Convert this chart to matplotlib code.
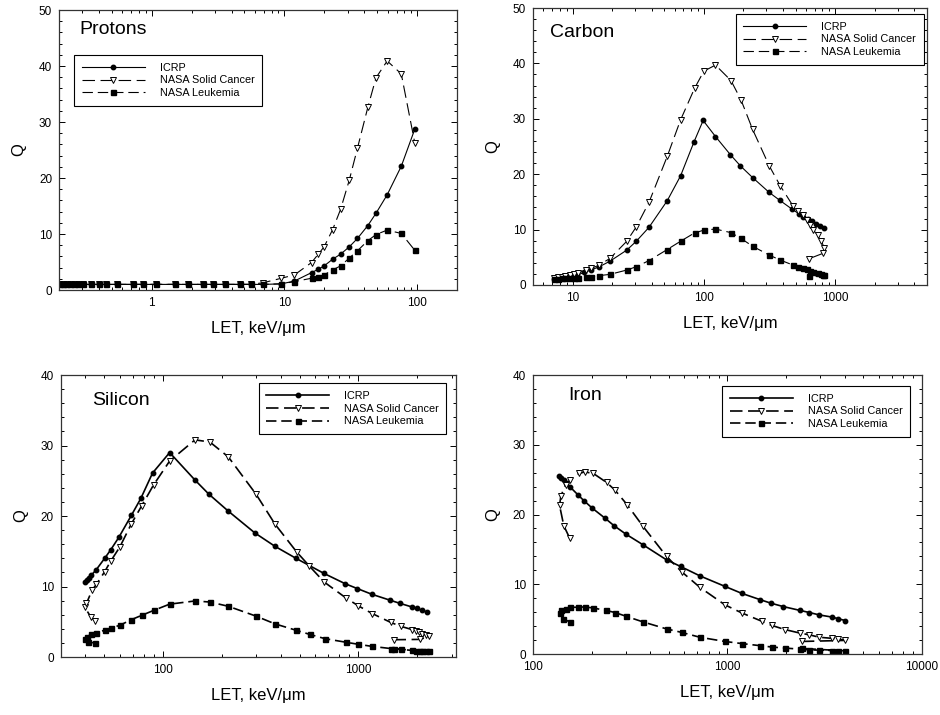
import matplotlib
matplotlib.use('Agg')
import matplotlib.pyplot as plt
from matplotlib.ticker import MultipleLocator, LogLocator, NullFormatter, FuncFormatter

plt.rcParams['font.family'] = ['Liberation Sans', 'DejaVu Sans']
plt.rcParams['lines.scale_dashes'] = False

# ---- Protons ----
p_let = [0.202, 0.214, 0.227, 0.243, 0.258, 0.278, 0.303, 0.351, 0.398, 0.455, 0.547,
         0.723, 0.86, 1.08, 1.49, 1.88, 2.44, 2.87, 3.55, 4.61, 5.56, 6.92,
         9.5, 11.9, 16.0, 18.0, 19.9, 23.1, 26.5, 30.8, 35.5, 42.5, 49.0, 59.5, 76.0, 96.0]
p_icrp = [1.0, 1.0, 1.0, 1.0, 1.0, 1.0, 1.0, 1.0, 1.0, 1.0, 1.0,
          1.0, 1.0, 1.0, 1.0, 1.0, 1.0, 1.0, 1.0, 1.0, 1.0, 1.0,
          1.1, 1.6, 3.1, 3.7, 4.3, 5.5, 6.4, 7.7, 9.2, 11.5, 13.7, 17.0, 22.1, 28.7]
p_solid = [1.0, 1.0, 1.0, 1.0, 1.0, 1.0, 1.0, 1.0, 1.0, 1.0, 1.0,
           1.0, 1.0, 1.0, 1.0, 1.0, 1.0, 1.0, 1.0, 1.0, 1.0, 1.3,
           2.1, 2.7, 4.9, 6.4, 7.7, 10.8, 14.4, 19.6, 25.3, 32.6, 37.9, 40.9, 38.6, 26.3]
p_leuk = [1.0, 1.0, 1.0, 1.0, 1.0, 1.0, 1.0, 1.0, 1.0, 1.0, 1.0,
          1.0, 1.0, 1.0, 1.0, 1.0, 1.0, 1.0, 1.0, 1.0, 1.0, 1.0,
          1.1, 1.5, 2.1, 2.4, 2.7, 3.6, 4.3, 5.7, 7.0, 8.8, 9.9, 10.7, 10.1, 7.1]

# ---- Carbon ----
c_icrp_let = [7.26, 7.69, 8.17, 8.65, 9.33, 10.0, 10.9, 12.3, 13.8, 16.0, 19.3, 25.9, 30.6,
              38.2, 52.6, 66.5, 84.4, 98.8, 122.7, 159.6, 190, 235, 315, 378, 469, 526,
              574, 620, 664, 712, 769, 829]
c_icrp = [1.14, 1.2, 1.26, 1.38, 1.5, 1.62, 1.8, 2.29, 2.7, 3.3, 4.3, 6.3, 7.9,
          10.4, 15.2, 19.7, 25.9, 29.7, 26.8, 23.5, 21.5, 19.4, 16.7, 15.3, 13.7, 12.9,
          12.3, 11.9, 11.5, 11.1, 10.6, 10.3]
c_nasa_let = [7.26, 7.69, 8.25, 8.8, 9.6, 10.3, 11.1, 12.6, 13.9, 15.8, 19.3, 25.9, 30.6,
              38.2, 52.6, 66.5, 85, 100, 122.7, 161, 192, 235, 315, 382, 477, 520, 565,
              609, 646, 684, 734, 783, 829, 805, 634]
c_solid = [1.26, 1.38, 1.5, 1.68, 1.8, 2.0, 2.2, 2.7, 3.0, 3.55, 4.8, 7.9, 10.5,
           14.9, 23.2, 29.8, 35.5, 38.6, 39.7, 36.9, 33.4, 28.1, 21.5, 17.9, 14.3, 13.3, 12.6,
           11.7, 10.8, 9.9, 9.0, 8.0, 6.6, 5.7, 4.75]
c_leuk = [1.08, 1.14, 1.2, 1.2, 1.26, 1.26, 1.32, 1.38, 1.5, 1.68, 1.92, 2.7, 3.3,
          4.4, 6.4, 7.9, 9.4, 9.9, 10.1, 9.45, 8.4, 7.0, 5.4, 4.5, 3.6, 3.3, 3.0,
          2.8, 2.6, 2.35, 2.1, 1.9, 1.8, 1.75, 1.6]

# ---- Silicon ----
s_icrp_let = [40.0, 40.7, 41.8, 42.9, 45.5, 50.2, 53.9, 59.4, 68.8, 76.9, 88.3, 108, 145.6,
              171.5, 215.5, 295, 374, 479, 667, 855, 989, 1171, 1455, 1637, 1879, 1993, 2114, 2243]
s_icrp = [10.65, 10.9, 11.2, 11.6, 12.4, 14.0, 15.2, 17.0, 20.1, 22.5, 26.1, 29.0, 25.1,
          23.1, 20.7, 17.6, 15.7, 14.0, 11.85, 10.4, 9.7, 8.9, 8.05, 7.6, 7.1, 6.9, 6.6, 6.4]
s_solid_let = [45.0, 42.6, 39.6, 40.5, 43.3, 45.5, 50.2, 53.9, 60, 68.8, 77.5, 89.3, 108,
               145.6, 173.5, 215.5, 299, 374, 483, 561, 667, 861, 1000, 1180, 1466, 1649,
               1879, 1968, 2046, 2128, 2217, 2306, 2070, 1514]
s_solid = [5.1, 5.7, 7.1, 7.6, 9.5, 10.3, 12.1, 13.6, 15.6, 18.9, 21.4, 24.4, 27.8,
           30.8, 30.5, 28.4, 23.1, 18.85, 14.9, 12.9, 10.65, 8.4, 7.25, 6.15, 4.9, 4.35,
           3.9, 3.7, 3.5, 3.3, 3.1, 2.95, 2.5, 2.45]
s_leuk_let = [45.0, 41.2, 40.0, 40.7, 42.9, 45.5, 50.2, 53.9, 60, 68.8, 77.5, 89.3, 108,
              145.6, 173.5, 215.5, 299, 374, 479, 565, 675, 861, 1000, 1180, 1466, 1649,
              1879, 1968, 2128, 2217, 2306, 2070, 1514]
s_leuk = [2.0, 2.1, 2.6, 2.9, 3.2, 3.45, 3.8, 4.1, 4.5, 5.3, 5.9, 6.6, 7.5,
          7.95, 7.8, 7.2, 5.8, 4.7, 3.8, 3.2, 2.6, 2.1, 1.8, 1.5, 1.2, 1.1,
          0.95, 0.9, 0.85, 0.85, 0.85, 0.85, 1.15]

# ---- Iron ----
f_icrp_let = [136, 140, 144, 148.5, 154.5, 170.6, 182.5, 202, 234, 261, 300, 366, 486,
              574, 722, 970, 1183, 1469, 1667, 1937, 2360, 2636, 2970, 3440, 3720, 4030]
f_icrp = [25.5, 25.2, 24.9, 24.5, 24.0, 22.8, 22.0, 20.9, 19.5, 18.4, 17.2, 15.7, 13.5,
          12.55, 11.2, 9.7, 8.7, 7.8, 7.3, 6.8, 6.25, 5.95, 5.6, 5.3, 5.05, 4.8]
f_solid_let = [154.5, 144, 137, 139, 147, 155.6, 172.5, 184.5, 204, 239, 264, 305, 368, 486,
               581, 722, 970, 1183, 1500, 1690, 1977, 2360, 2636, 2970, 3440, 3720, 4030, 2410]
f_solid = [16.6, 18.4, 21.3, 22.6, 24.3, 25.0, 25.9, 26.1, 25.9, 24.6, 23.5, 21.4, 18.3, 14.0,
           11.8, 9.55, 7.05, 5.9, 4.7, 4.1, 3.5, 3.0, 2.75, 2.4, 2.25, 2.15, 1.95, 1.8]
f_leuk_let = [154.5, 143, 137, 140, 148.5, 155.6, 170.6, 184.5, 204, 237, 264, 302, 368, 486,
              581, 722, 970, 1183, 1469, 1690, 1977, 2360, 2636, 2970, 3440, 3720, 4030, 2410]
f_leuk = [4.6, 5.05, 5.95, 6.35, 6.5, 6.7, 6.7, 6.75, 6.6, 6.25, 5.95, 5.4, 4.6, 3.6,
          3.1, 2.4, 1.8, 1.5, 1.2, 1.0, 0.85, 0.7, 0.6, 0.55, 0.5, 0.5, 0.45, 0.8]


def draw_panel(ax, name, icrp, solid, leuk, xlim, ylim, name_pos, leg_pos, lw):
    ax.plot(icrp[0], icrp[1], color='k', lw=lw, marker='o', ms=3.2,
            label='ICRP')
    ax.plot(solid[0], solid[1], color='k', lw=lw, dashes=(9, 4), marker='v',
            ms=4.8, mfc='white', mec='k', mew=0.7, label='NASA Solid Cancer')
    ax.plot(leuk[0], leuk[1], color='k', lw=lw, dashes=(7.5, 3.5), marker='s',
            ms=3.6, label='NASA Leukemia')

    ax.set_xscale('log')
    ax.set_xlim(*xlim)
    ax.set_ylim(*ylim)
    ax.xaxis.set_major_locator(LogLocator(base=10))
    ax.xaxis.set_minor_locator(LogLocator(base=10, subs=range(2, 10)))
    ax.xaxis.set_major_formatter(FuncFormatter(lambda v, p: f'{v:g}'))
    ax.xaxis.set_minor_formatter(NullFormatter())
    ax.yaxis.set_major_locator(MultipleLocator(10))
    ax.yaxis.set_minor_locator(MultipleLocator(2))
    ax.tick_params(which='both', direction='in', top=True, right=True,
                   labelsize=8.5, width=0.7)
    ax.tick_params(which='major', length=4, pad=5)
    ax.tick_params(which='minor', length=2.5)
    for sp in ax.spines.values():
        sp.set_linewidth(0.9)
        sp.set_color('#333333')

    ax.set_xlabel('LET, keV/\u03bcm', fontsize=12, labelpad=9)
    ax.set_ylabel('Q', fontsize=12, labelpad=9)
    ax.text(name_pos[0], name_pos[1], name, transform=ax.transAxes,
            fontsize=14, ha='left', va='center')

    leg = ax.legend(loc='upper left', bbox_to_anchor=leg_pos, fontsize=7.8,
                    handlelength=5.8, handletextpad=1.4, labelspacing=0.25,
                    borderpad=0.7, borderaxespad=0, numpoints=1,
                    fancybox=False, framealpha=1, edgecolor='k')
    leg.get_frame().set_linewidth(0.8)


fig = plt.figure(figsize=(9.4, 7.15), dpi=100)

ax1 = fig.add_axes([0.0628, 0.5944, 0.4234, 0.3916])
draw_panel(ax1, 'Protons', (p_let, p_icrp), (p_let, p_solid), (p_let, p_leuk),
           (0.2, 200), (0, 50), (0.05, 0.93), (0.038, 0.839), 0.8)

ax2 = fig.add_axes([0.567, 0.6014, 0.4191, 0.3874])
draw_panel(ax2, 'Carbon', (c_icrp_let, c_icrp), (c_nasa_let, c_solid), (c_nasa_let, c_leuk),
           (5, 5000), (0, 50), (0.043, 0.91), (0.515, 0.978), 0.8)

ax3 = fig.add_axes([0.0649, 0.0811, 0.4202, 0.3944])
draw_panel(ax3, 'Silicon', (s_icrp_let, s_icrp), (s_solid_let, s_solid), (s_leuk_let, s_leuk),
           (30, 3160), (0, 40), (0.078, 0.91), (0.5, 0.97), 1.2)

ax4 = fig.add_axes([0.567, 0.0853, 0.4138, 0.3902])
draw_panel(ax4, 'Iron', (f_icrp_let, f_icrp), (f_solid_let, f_solid), (f_leuk_let, f_leuk),
           (100, 10000), (0, 40), (0.09, 0.928), (0.487, 0.96), 1.2)

fig.savefig('out.png', dpi=100)
